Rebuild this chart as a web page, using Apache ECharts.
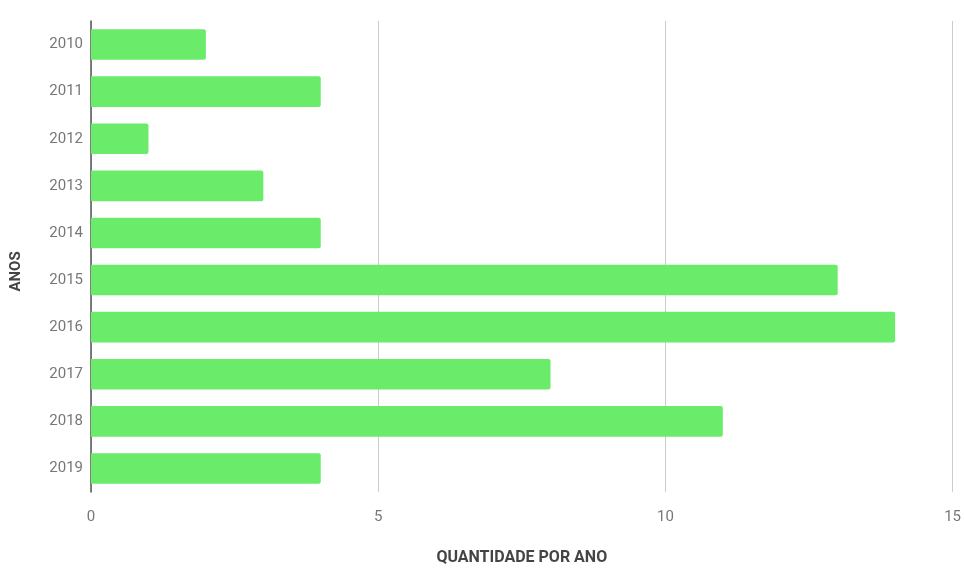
<!DOCTYPE html>
<html><head><meta charset="utf-8">
<script src="https://cdn.jsdelivr.net/npm/echarts@6/dist/echarts.min.js"></script>
<style>html,body{margin:0;padding:0;background:#fff}#c{width:964px;height:571px}</style>
</head><body><div id="c"></div>
<script>
const categories = ['2010','2011','2012','2013','2014','2015','2016','2017','2018','2019'];
const values = [2,4,1,3,4,13,14,8,11,4];
const xTicks = {min:0, max:15, interval:5};
const xName = 'QUANTIDADE POR ANO';
const yName = 'ANOS';

const chart = echarts.init(document.getElementById('c'), null, {renderer:'canvas'});
chart.setOption({
  animation:false,
  textStyle:{fontFamily:'Roboto'},
  grid:{left:91, right:10, top:21, bottom:74},
  xAxis:{
    type:'value', min:xTicks.min, max:xTicks.max, interval:xTicks.interval,
    name:xName, nameLocation:'middle', nameGap:58,
    nameTextStyle:{fontWeight:'bold', fontSize:16, color:'#444', fontFamily:'Roboto'},
    axisLine:{show:false}, axisTick:{show:false},
    axisLabel:{color:'#777', fontSize:15, margin:18, fontFamily:'Roboto'},
    splitLine:{show:true, lineStyle:{color:'#cccccc', width:1}}
  },
  yAxis:{
    type:'category', data:categories, inverse:true,
    name:yName, nameLocation:'middle', nameGap:67, nameRotate:90,
    nameTextStyle:{fontWeight:'bold', fontSize:15, color:'#444', fontFamily:'Roboto', padding:[0,30,0,0]},
    axisLine:{show:true, lineStyle:{color:'#555', width:1.5}},
    axisTick:{show:false},
    axisLabel:{color:'#777', fontSize:15, margin:8, fontFamily:'Roboto'}
  },
  series:[{
    type:'bar', data:values, barCategoryGap:'35%',
    itemStyle:{color:'#6aeb6a', borderRadius:[0,2,2,0]}
  }]
});
</script></body></html>
